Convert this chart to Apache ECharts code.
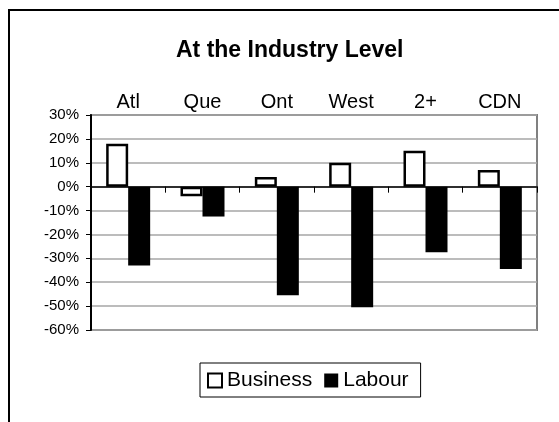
<!DOCTYPE html>
<html>
<head>
<meta charset="utf-8">
<script src="https://cdn.jsdelivr.net/npm/echarts@6/dist/echarts.min.js"></script>
<style>
  html, body { margin: 0; padding: 0; background: #fff; }
  #chart { width: 559px; height: 422px; }
</style>
</head>
<body>
<div id="chart"></div>
<script>
var regions = ['Atl', 'Que', 'Ont', 'West', '2+', 'CDN'];
var business = [18, -4, 4, 10, 15, 7];
var labour = [-33, -12.5, -45.5, -50.5, -27.5, -34.5];

var myChart = echarts.init(document.getElementById('chart'));
var font = 'Liberation Sans, Arial, sans-serif';
var option = {
    animation: false,
    textStyle: { fontFamily: font, color: '#000' },
    title: {
        text: 'At the Industry Level',
        left: 176,
        top: 39,
        padding: 0,
        textStyle: { fontSize: 23, fontWeight: 'bold', color: '#000', fontFamily: font }
    },
    graphic: [
        {
            type: 'rect',
            shape: { x: 9, y: 10, width: 620, height: 500 },
            style: { fill: null, stroke: '#000', lineWidth: 2 },
            silent: true
        }
    ],
    legend: {
        left: 200,
        top: 363,
        padding: [7, 12, 6, 7],
        itemGap: 12,
        itemWidth: 14,
        itemHeight: 14,
        icon: 'rect',
        borderColor: '#000',
        borderWidth: 1,
        textStyle: { fontSize: 21, color: '#000', fontFamily: font },
        data: ['Business', 'Labour']
    },
    grid: {
        left: 91,
        right: 22,
        top: 115,
        bottom: 92,
        show: true,
        borderColor: '#808080',
        borderWidth: 2,
        backgroundColor: '#fff'
    },
    xAxis: [
        {
            type: 'category',
            data: regions,
            position: 'bottom',
            axisLine: { onZero: true, lineStyle: { color: '#000', width: 1.5 } },
            axisTick: { show: true, length: 6, lineStyle: { color: '#000' } },
            axisLabel: { show: false },
            splitLine: { show: false }
        },
        {
            type: 'category',
            data: regions,
            position: 'top',
            axisLine: { show: false },
            axisTick: { show: false },
            axisLabel: { fontSize: 20, color: '#000', fontFamily: font, margin: 3 },
            splitLine: { show: false }
        }
    ],
    yAxis: {
        type: 'value',
        min: -60,
        max: 30,
        interval: 10,
        axisLine: { show: true, lineStyle: { color: '#000', width: 2 } },
        axisTick: { show: true, length: 5, lineStyle: { color: '#000' } },
        axisLabel: { formatter: '{value}%', fontSize: 15, color: '#000', fontFamily: font, margin: 12 },
        splitLine: { show: true, lineStyle: { color: '#a6a6a6', width: 1.5 } }
    },
    series: [
        {
            name: 'Business',
            type: 'bar',
            xAxisIndex: 0,
            barWidth: 22,
            barGap: '0%',
            itemStyle: { color: '#fff', borderColor: '#000', borderWidth: 2.5 },
            data: business
        },
        {
            name: 'Labour',
            type: 'bar',
            xAxisIndex: 0,
            barWidth: 22,
            itemStyle: { color: '#000', borderColor: '#000', borderWidth: 0 },
            data: labour
        }
    ]
};
myChart.setOption(option);
</script>
</body>
</html>
